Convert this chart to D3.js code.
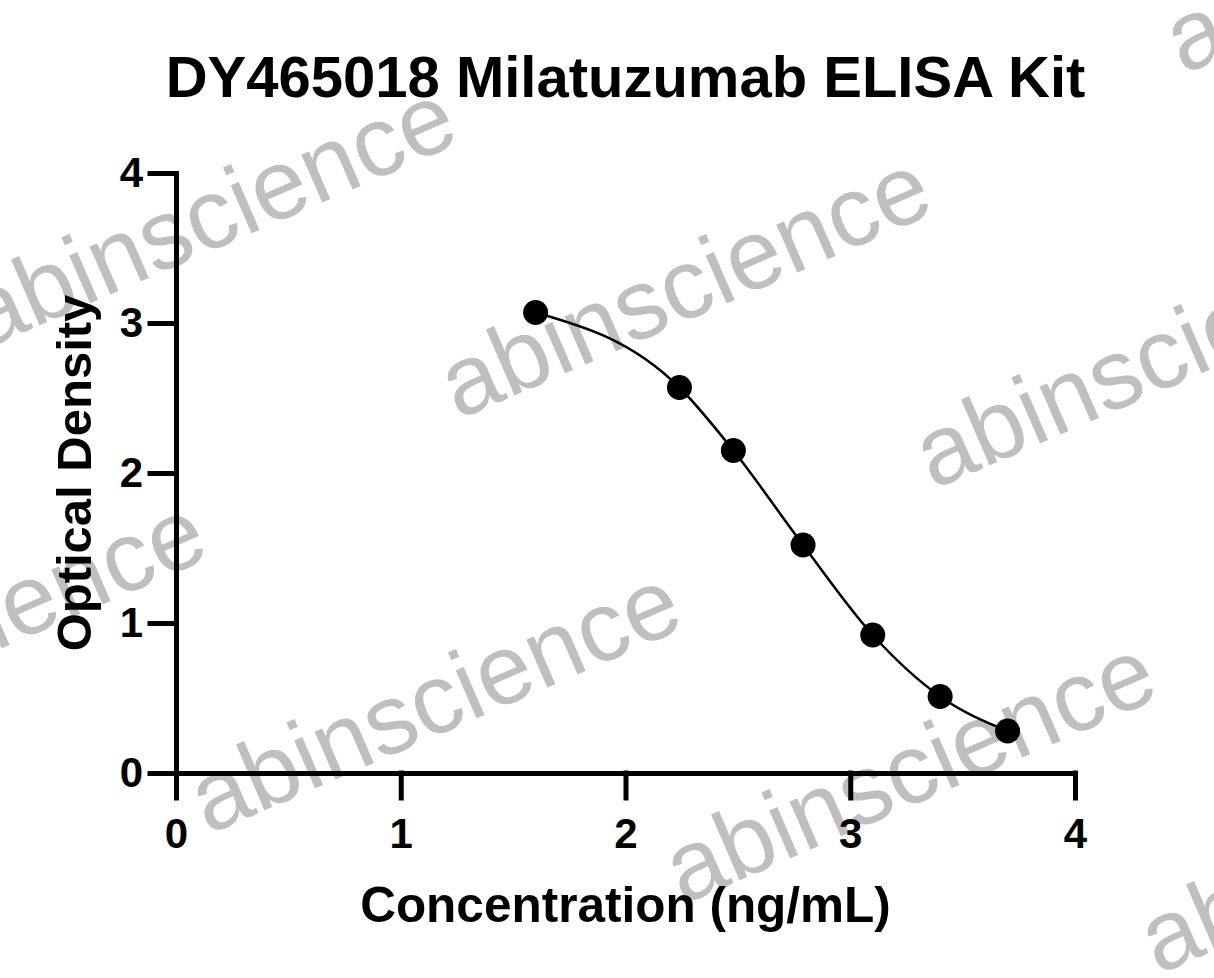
<!DOCTYPE html>
<html>
<head>
<meta charset="utf-8">
<script src="https://cdn.jsdelivr.net/npm/d3@7"></script>
<style>
    body { margin: 0; background: #fff; }
    svg { display: block; }
    text { font-family: "Liberation Sans", Arial, sans-serif; }
</style>
</head>
<body>
<div class="chart"></div>
<script>
// data
const concentration = [1.60, 2.24, 2.48, 2.79, 3.10, 3.40, 3.70];
const opticalDensity = [3.07, 2.57, 2.15, 1.52, 0.92, 0.51, 0.28];
const xTicks = [0, 1, 2, 3, 4];
const yTicks = [0, 1, 2, 3, 4];

const titleText = 'DY465018 Milatuzumab ELISA Kit';
const xLabel = 'Concentration (ng/mL)';
const yLabel = 'Optical Density';

const width = 1214;
const height = 978;
const margin = { top: 173, right: 139, bottom: 205, left: 176 };

const svg = d3.select('.chart')
    .append('svg')
    .attr('width', width)
    .attr('height', height);

// watermark layer (sits under the chart)
const wmOrigin = [458, 420];
const wmA = [475, 70];
const wmB = [-250, 415];
const wmSteps = [];
for (let i = -2; i <= 2; i++) {
    for (let j = -2; j <= 2; j++) {
        wmSteps.push([wmOrigin[0] + i * wmA[0] + j * wmB[0], wmOrigin[1] + i * wmA[1] + j * wmB[1]]);
    }
}
svg.append('g')
    .selectAll('text')
    .data(wmSteps)
    .enter().append('text')
    .attr('transform', d => `translate(${d[0]},${d[1]}) rotate(-23.5)`)
    .style('font-size', '99px')
    .style('fill', '#bfbfbf')
    .text('abinscience');

// scales
const x = d3.scaleLinear()
    .domain([0, 4])
    .range([margin.left, width - margin.right]);

const y = d3.scaleLinear()
    .domain([0, 4])
    .range([height - margin.bottom, margin.top]);

// axes
const xAxis = svg.append('g')
    .attr('transform', `translate(0,${height - margin.bottom})`)
    .call(d3.axisBottom(x).tickValues(xTicks).tickFormat(d3.format('d'))
        .tickSize(25).tickSizeOuter(0).tickPadding(20));

const yAxis = svg.append('g')
    .attr('transform', `translate(${margin.left},0)`)
    .call(d3.axisLeft(y).tickValues(yTicks).tickFormat(d3.format('d'))
        .tickSize(26).tickSizeOuter(0).tickPadding(7));

[xAxis, yAxis].forEach(g => {
    g.select('.domain')
        .style('stroke', '#000')
        .style('stroke-width', 5)
        .style('stroke-linecap', 'square');
    g.selectAll('.tick line')
        .style('stroke', '#000')
        .style('stroke-width', 5)
        .style('stroke-linecap', 'square');
    g.selectAll('.tick text')
        .style('font-family', '"Liberation Sans", Arial, sans-serif')
        .style('font-size', '42px')
        .style('font-weight', 'bold')
        .style('fill', '#000');
});

// fitted curve
const points = concentration.map((c, i) => ({ x: c, y: opticalDensity[i] }));

const line = d3.line()
    .x(d => x(d.x))
    .y(d => y(d.y))
    .curve(d3.curveMonotoneX);

svg.append('path')
    .datum(points)
    .attr('d', line)
    .style('fill', 'none')
    .style('stroke', '#000')
    .style('stroke-width', 2.5);

// standards
svg.selectAll('.dot')
    .data(points)
    .enter().append('circle')
    .attr('class', 'dot')
    .attr('r', 12.5)
    .attr('cx', d => x(d.x))
    .attr('cy', d => y(d.y))
    .style('fill', '#000');

// titles
svg.append('text')
    .attr('x', (x(0) + x(4)) / 2)
    .attr('y', 97)
    .attr('text-anchor', 'middle')
    .style('font-size', '58px')
    .style('font-weight', 'bold')
    .text(titleText);

svg.append('text')
    .attr('x', (x(0) + x(4)) / 2)
    .attr('y', 922)
    .attr('text-anchor', 'middle')
    .style('font-size', '49.5px')
    .style('font-weight', 'bold')
    .text(xLabel);

svg.append('text')
    .attr('transform', `translate(91,${(y(0) + y(4)) / 2}) rotate(-90)`)
    .attr('text-anchor', 'middle')
    .style('font-size', '49px')
    .style('font-weight', 'bold')
    .text(yLabel);
</script>
</body>
</html>
